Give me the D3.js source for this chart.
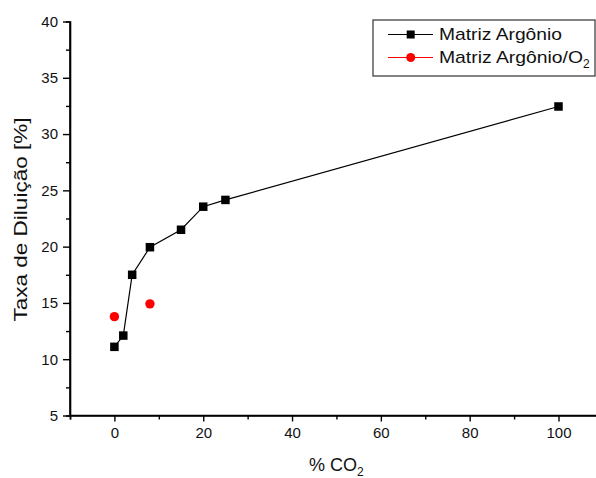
<!DOCTYPE html>
<html>
<head>
<meta charset="utf-8">
<script src="https://cdn.jsdelivr.net/npm/d3@7"></script>
<style>
  html, body { margin: 0; padding: 0; background: #fff; }
  svg { display: block; font-family: Arial, "Liberation Sans", sans-serif; }
</style>
</head>
<body>
<svg id="chart" width="596" height="478"></svg>
<script>
// Dilution rate vs CO2 content
const co2Argon = [0, 2, 4, 8, 15, 20, 25, 100];
const rateArgon = [11.1, 12.1, 17.5, 19.95, 21.5, 23.55, 24.15, 32.45];
const co2ArgonO2 = [0, 8];
const rateArgonO2 = [13.78, 14.92];
const xMajorTicks = [0, 20, 40, 60, 80, 100];
const xMinorTicks = [-10, 10, 30, 50, 70, 90];
const yMajorTicks = [5, 10, 15, 20, 25, 30, 35, 40];
const yMinorTicks = [7.5, 12.5, 17.5, 22.5, 27.5, 32.5, 37.5];
const seriesNames = ["Matriz Argônio", "Matriz Argônio/O"];

const svg = d3.select("#chart");

const x = d3.scaleLinear().domain([-10, 110]).range([70, 602.9]);
const y = d3.scaleLinear().domain([5, 40]).range([415.5, 21.5]);

const tickFont = "15px";

// Y axis
const yAxis = svg.append("g").attr("transform", `translate(${x(-10)},0)`);
yAxis.call(d3.axisLeft(y).tickValues(yMajorTicks).tickSize(7).tickPadding(5).tickFormat(d3.format("d")));
yAxis.append("g").call(d3.axisLeft(y).tickValues(yMinorTicks).tickSize(4).tickFormat(""));

// X axis
const xAxis = svg.append("g").attr("transform", `translate(0,${y(5)})`);
xAxis.call(d3.axisBottom(x).tickValues(xMajorTicks).tickSize(6).tickPadding(6).tickFormat(d3.format("d")));
xAxis.append("g").call(d3.axisBottom(x).tickValues(xMinorTicks).tickSize(4).tickFormat(""));

svg.selectAll(".domain").attr("stroke", "#000").attr("stroke-width", 1.6);
svg.selectAll(".tick line").attr("stroke", "#000").attr("stroke-width", 1.4);
svg.selectAll(".tick text").attr("fill", "#111").style("font-size", tickFont)
  .style("font-family", "Arial, 'Liberation Sans', sans-serif");
// plain axis lines without end caps
yAxis.select(".domain").attr("d", `M0,${y(40)}V${y(5)}`);
xAxis.select(".domain").attr("d", `M${x(-10)},0H596`);

// Axis titles
svg.append("text")
  .attr("transform", `translate(27,${(y(5) + y(40)) / 2 + 1}) rotate(-90)`)
  .attr("text-anchor", "middle")
  .attr("fill", "#111")
  .attr("textLength", 204)
  .attr("lengthAdjust", "spacingAndGlyphs")
  .style("font-size", "19px")
  .text("Taxa de Diluição [%]");

const xt = svg.append("text")
  .attr("x", 309).attr("y", 471)
  .attr("fill", "#111")
  .style("font-size", "18px");
xt.append("tspan").text("% CO");
xt.append("tspan").attr("dy", 5).style("font-size", "12px").text("2");

// Series: Matriz Argônio
const ptsA = co2Argon.map((c, i) => [c, rateArgon[i]]);
svg.append("path")
  .datum(ptsA)
  .attr("fill", "none").attr("stroke", "#000").attr("stroke-width", 1.2)
  .attr("d", d3.line().x(d => x(d[0])).y(d => y(d[1])));
const sq = 8.5;
svg.append("g").selectAll("rect").data(ptsA).join("rect")
  .attr("x", d => x(d[0]) - sq / 2).attr("y", d => y(d[1]) - sq / 2)
  .attr("width", sq).attr("height", sq).attr("fill", "#000");

// Series: Matriz Argônio/O2 (markers only)
const ptsB = co2ArgonO2.map((c, i) => [c, rateArgonO2[i]]);
svg.append("g").selectAll("circle").data(ptsB).join("circle")
  .attr("cx", d => x(d[0])).attr("cy", d => y(d[1])).attr("r", 4.7).attr("fill", "#f00");

// Legend
const lg = svg.append("g");
lg.append("rect").attr("x", 373).attr("y", 20).attr("width", 222).attr("height", 56)
  .attr("fill", "#fff").attr("stroke", "#333").attr("stroke-width", 1.2);
const rows = [
  { y: 34.5, color: "#000", shape: "square", len: 123 },
  { y: 57.5, color: "#f00", shape: "circle", len: 144 }
];
rows.forEach((r, i) => {
  lg.append("line").attr("x1", 388).attr("x2", 433).attr("y1", r.y).attr("y2", r.y)
    .attr("stroke", r.color).attr("stroke-width", 1.2);
  if (r.shape === "square") {
    lg.append("rect").attr("x", 410.7 - 4).attr("y", r.y - 4).attr("width", 8).attr("height", 8).attr("fill", r.color);
  } else {
    lg.append("circle").attr("cx", 410.7).attr("cy", r.y).attr("r", 4.5).attr("fill", r.color);
  }
  const t = lg.append("text").attr("x", 439).attr("y", r.y + 5.5).attr("fill", "#111").style("font-size", "17px");
  t.append("tspan").attr("textLength", r.len).attr("lengthAdjust", "spacingAndGlyphs").text(seriesNames[i]);
  if (i === 1) t.append("tspan").attr("dy", 5).style("font-size", "12px").text("2");
});
</script>
</body>
</html>
